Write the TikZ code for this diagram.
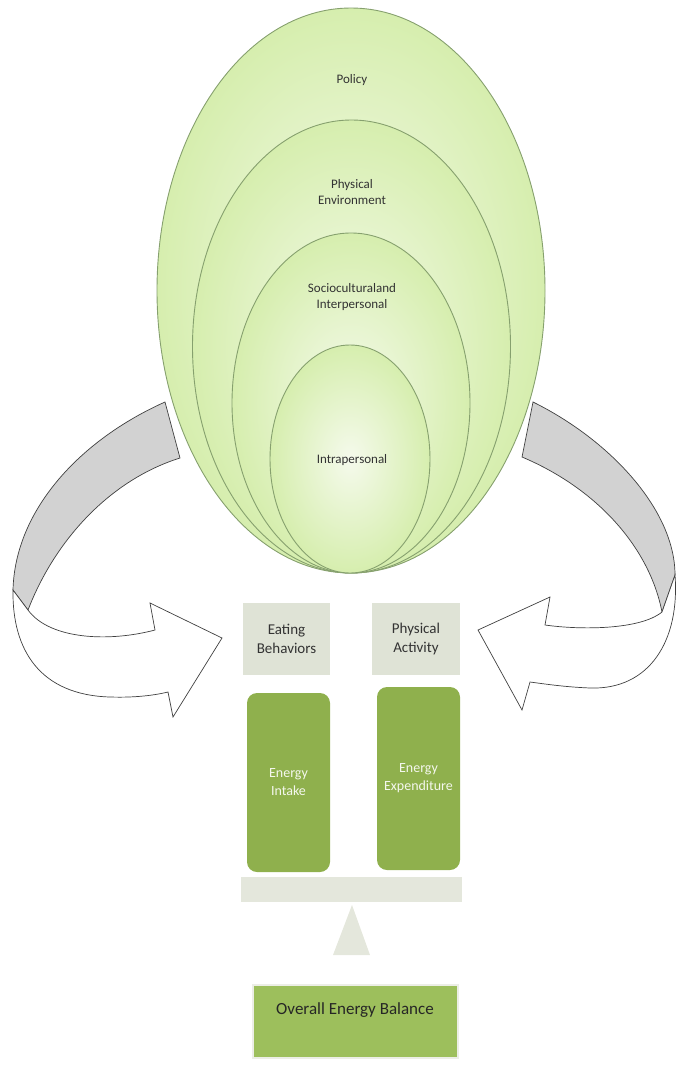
\documentclass[tikz,border=0pt]{standalone}
\usepackage{fontspec}
\setmainfont{Carlito}
\usetikzlibrary{shapes.geometric}
\definecolor{ringline}{HTML}{86A06E}
\definecolor{ringin}{HTML}{F5FAEC}
\definecolor{ringout}{HTML}{D6EEAE}
\definecolor{tagfill}{HTML}{DFE3D6}
\definecolor{energyfill}{HTML}{8FB04D}
\definecolor{balfill}{HTML}{9DBF5C}
\definecolor{bandfill}{HTML}{D2D2D2}
\begin{document}
\begin{tikzpicture}[x=1pt, y=-1pt,
  ring/.style={ellipse, draw=ringline, line width=0.9pt, inner color=ringin, outer color=ringout, inner sep=0},
  ringtext/.style={align=center, text=black!80, font=\fontsize{13}{16}\selectfont},
  tag/.style={rectangle, fill=tagfill, minimum width=87, minimum height=72, align=center, font=\fontsize{15}{19}\selectfont, text=black!80},
  energy/.style={rectangle, rounded corners=10, fill=energyfill, minimum width=83, align=center, font=\fontsize{14}{18}\selectfont, text=white!90!energyfill},
  band/.style={draw=black!75, line width=0.7pt, fill=bandfill},
  front/.style={draw=black!75, line width=0.7pt, fill=white}]
\useasboundingbox (0,0) rectangle (676,1068);
\node[ring, minimum width=388, minimum height=565] (ring0) at (351,290.5){};
\node[ring, minimum width=318, minimum height=453] (ring1) at (351.5,346.5){};
\node[ring, minimum width=238, minimum height=340] (ring2) at (351,403){};
\node[ring, minimum width=160, minimum height=228] (ring3) at (350,459){};
\node[ringtext] (txt0) at (352,80){Policy};
\node[ringtext] (txt1) at (352,192){Physical\\Environment};
\node[ringtext] (txt2) at (352,297){Socioculturaland\\Interpersonal};
\node[ringtext] (txt3) at (352,460){Intrapersonal};
% left arrow
\draw[band] (165,402) .. controls (80,440) and (15,510) .. (13,590) -- (28,610) .. controls (55,540) and (110,480) .. (180,458) -- cycle;
\draw[front] (13,590) .. controls (12,650) and (40,695) .. (110,697) .. controls (140,698) and (160,694) .. (168,692) -- (173,717) -- (222,638) -- (150,603) -- (155,630) .. controls (110,642) and (50,640) .. (28,610) -- cycle;
% right arrow
\draw[band] (533,402) .. controls (610,440) and (675,510) .. (675,575) -- (662,612) .. controls (650,550) and (600,490) .. (522,457) -- cycle;
\draw[front] (675,575) .. controls (680,640) and (650,690) .. (590,688) .. controls (565,687) and (545,684) .. (530,682) -- (522,710) -- (478,630) -- (550,597) -- (545,625) .. controls (580,630) and (640,630) .. (662,612) -- cycle;
% balance
\node[tag] (eat) at (286.5,639){Eating\\Behaviors};
\node[tag, minimum width=88] (act) at (416,639){Physical\\Activity};
\node[energy, minimum height=179] (intake) at (288.5,782.5){Energy\\Intake};
\node[energy, minimum height=183] (spend) at (418.5,778.5){Energy\\Expenditure};
\node[rectangle, fill=tagfill!85!white, minimum width=221, minimum height=25] (beam) at (351.5,889.5){};
\fill[tagfill!85!white] (352,905) -- (370,955) -- (333,955) -- cycle;
\node[rectangle, fill=balfill, draw=tagfill!60!white, line width=1.5pt, minimum width=205, minimum height=73] (bal) at (355.5,1021.5){};
\node[font=\fontsize{17}{20}\selectfont, text=black!85] (baltxt) at (355,1010){Overall Energy Balance};
\end{tikzpicture}
\end{document}
